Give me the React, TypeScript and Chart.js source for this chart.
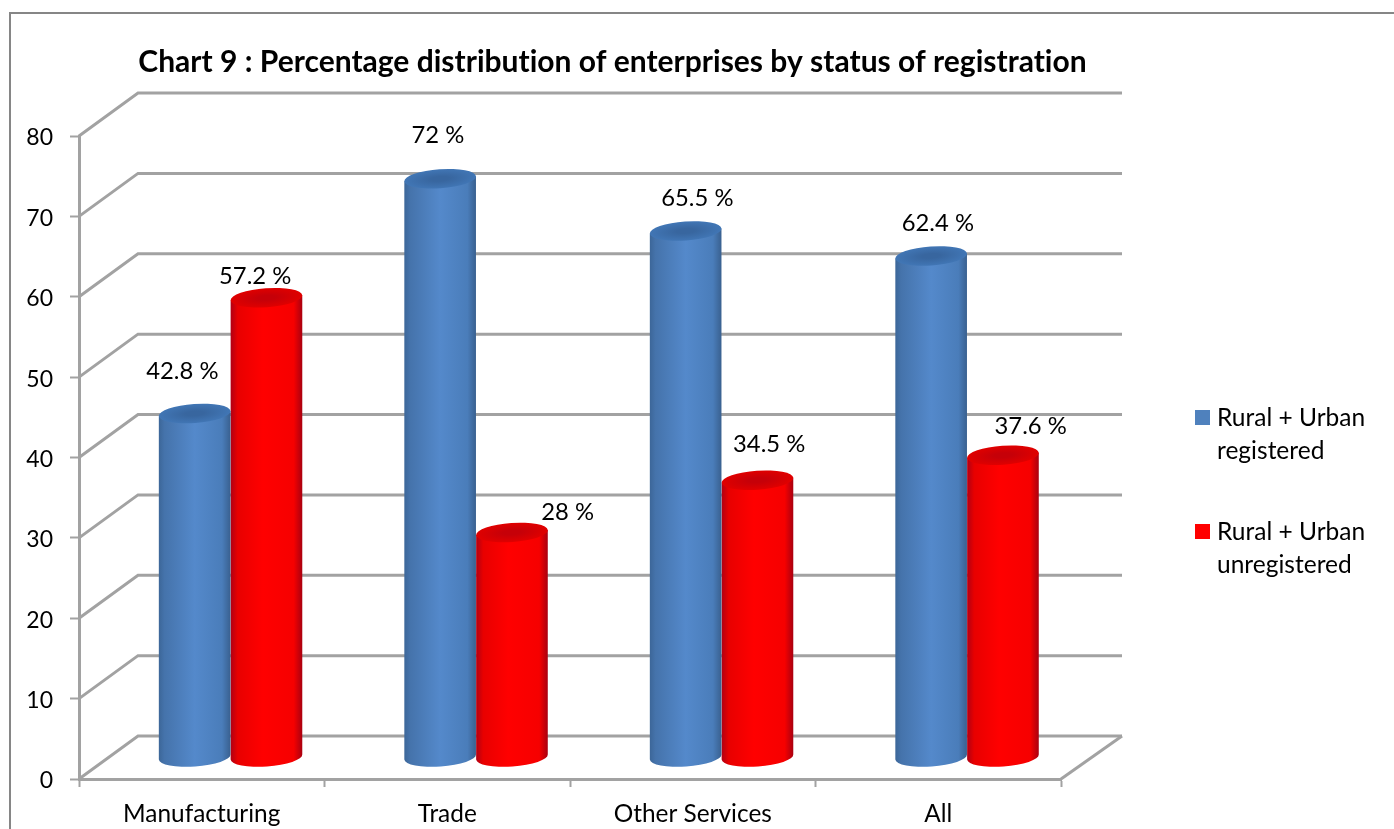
import React, { useEffect, useRef } from "react";
import { Chart, registerables, BarController, BarElement } from "chart.js";

const categories = ["Manufacturing", "Trade", "Other Services", "All"];
const registered = [42.8, 72, 65.5, 62.4];
const unregistered = [57.2, 28, 34.5, 37.6];
const seriesNames = ["Rural + Urban registered", "Rural + Urban unregistered"];
const legendLines = [["Rural + Urban", "registered"], ["Rural + Urban", "unregistered"]];
const titleText = "Chart 9 : Percentage distribution of enterprises by status of registration";
const yMax = 80;
const yStep = 10;

// Hand-placed label nudges of the source chart, relative to each cylinder's top centre
const registeredLabelNudge = [[-13, -42], [-3, -43], [11, -33], [6, -33]];
const unregisteredLabelNudge = [[-12, -21], [55, -20], [11, -36], [27, -29]];

const FONT = "Lato, Carlito, 'Noto Sans', sans-serif";
const DEPTH_X = 59;
const DEPTH_Y = 43;
const GRID = "#a2a2a2";
const RY = 9.5;
const TILT = -0.07;

const palettes: Record<string, any> = {
  blue: {
    body: [[0, "#3c6698"], [0.08, "#4573ab"], [0.5, "#5489cb"], [0.88, "#4a7dba"], [1, "#39608f"]],
    topIn: "#38669f", topOut: "#4176b5", swatch: "#4f81bd",
  },
  red: {
    body: [[0, "#b00014"], [0.1, "#e80000"], [0.45, "#ff0000"], [0.88, "#f60000"], [1, "#a80010"]],
    topIn: "#c60008", topOut: "#e00000", swatch: "#ff0000",
  },
};

class CylinderElement extends BarElement {
  static id = "cylinder";
  draw(ctx: CanvasRenderingContext2D) {
    const { x, y, base, width } = (this as any).getProps(["x", "y", "base", "width"], true);
    const pal = palettes[(this as any).options.backgroundColor];
    const cx = x + DEPTH_X / 2 - 0.7;
    const top = y - DEPTH_Y / 2;
    const bottom = base - DEPTH_Y / 2;
    const rx = width / 2;
    const ex = rx * Math.cos(TILT);
    const ey = rx * Math.sin(TILT);
    const g = ctx.createLinearGradient(cx - rx, 0, cx + rx, 0);
    pal.body.forEach(([s, c]: [number, string]) => g.addColorStop(s, c));
    ctx.save();
    ctx.fillStyle = g;
    ctx.beginPath();
    ctx.moveTo(cx - ex, top - ey);
    ctx.lineTo(cx - ex, bottom - ey);
    ctx.ellipse(cx, bottom, rx, RY, TILT, Math.PI, 0, true);
    ctx.lineTo(cx + ex, top + ey);
    ctx.closePath();
    ctx.fill();
    ctx.translate(cx, top);
    ctx.rotate(TILT);
    ctx.scale(1, RY / rx);
    const r = ctx.createRadialGradient(0, 0, rx * 0.25, 0, 0, rx);
    r.addColorStop(0, pal.topIn);
    r.addColorStop(1, pal.topOut);
    ctx.fillStyle = r;
    ctx.beginPath();
    ctx.arc(0, 0, rx, 0, Math.PI * 2);
    ctx.fill();
    ctx.restore();
  }
}

class CylinderController extends BarController {
  static id = "cylinderBar";
  static defaults = { ...(BarController as any).defaults, dataElementType: "cylinder" };
}

Chart.register(...registerables, CylinderElement as any, CylinderController as any);

const wallsPlugin = {
  id: "walls",
  beforeDatasetsDraw(chart: any) {
    const { ctx, chartArea: a, scales } = chart;
    ctx.save();
    ctx.strokeStyle = GRID;
    ctx.lineWidth = 3;
    ctx.lineJoin = "miter";
    scales.y.ticks.forEach((t: any) => {
      const py = scales.y.getPixelForValue(t.value);
      ctx.beginPath();
      ctx.moveTo(a.left, py);
      ctx.lineTo(a.left + DEPTH_X, py - DEPTH_Y);
      ctx.lineTo(a.right + DEPTH_X + 2, py - DEPTH_Y);
      ctx.stroke();
    });
    ctx.beginPath();
    ctx.moveTo(a.right + DEPTH_X + 2, a.bottom - DEPTH_Y);
    ctx.lineTo(a.right, a.bottom);
    ctx.stroke();
    ctx.restore();
  },
};

const labelsPlugin = {
  id: "valueLabels",
  afterDatasetsDraw(chart: any) {
    const { ctx } = chart;
    const nudges = [registeredLabelNudge, unregisteredLabelNudge];
    ctx.save();
    ctx.font = `23.8px ${FONT}`;
    ctx.fillStyle = "#000";
    ctx.textAlign = "center";
    ctx.textBaseline = "middle";
    chart.data.datasets.forEach((ds: any, d: number) => {
      chart.getDatasetMeta(d).data.forEach((el: any, i: number) => {
        const [nx, ny] = nudges[d][i];
        ctx.fillText(`${ds.data[i]} %`, el.x + DEPTH_X / 2 + nx, el.y - DEPTH_Y / 2 + ny);
      });
    });
    ctx.restore();
  },
};

const legendPlugin = {
  id: "sideLegend",
  afterDraw(chart: any) {
    const { ctx } = chart;
    ctx.save();
    ctx.font = `24.5px ${FONT}`;
    ctx.textBaseline = "middle";
    ctx.textAlign = "left";
    chart.data.datasets.forEach((ds: any, d: number) => {
      const y0 = 418 + d * 114;
      ctx.fillStyle = palettes[ds.backgroundColor].swatch;
      ctx.fillRect(1195, y0 - 8, 15, 15);
      ctx.fillStyle = "#000";
      legendLines[d].forEach((line, k) => ctx.fillText(line, 1217, y0 + k * 33));
    });
    ctx.restore();
  },
};

const titlePlacement = {
  id: "titlePlacement",
  afterLayout(chart: any) {
    chart.titleBlock.left = 0;
    chart.titleBlock.right = 1225;
  },
  beforeDraw(chart: any) {
    chart.ctx.letterSpacing = "0.01px";
  },
};

export default function App() {
  const ref = useRef<HTMLCanvasElement>(null);
  useEffect(() => {
    const chart = new Chart(ref.current!, {
      type: "cylinderBar" as any,
      data: {
        labels: categories,
        datasets: [
          { label: seriesNames[0], data: registered, backgroundColor: "blue", clip: false } as any,
          { label: seriesNames[1], data: unregistered, backgroundColor: "red", clip: false } as any,
        ],
      },
      options: {
        animation: false,
        responsive: false,
        categoryPercentage: 0.585,
        barPercentage: 1,
        layout: { autoPadding: false, padding: { left: 0, right: 333, top: 0, bottom: 0 } },
        events: [],
        plugins: {
          legend: { display: false },
          tooltip: { enabled: false },
          title: {
            display: true,
            text: titleText,
            color: "#000",
            font: { family: FONT, size: 30, weight: "bold", lineHeight: 1 },
            padding: { top: 47, bottom: 59 },
          },
        },
        scales: {
          x: {
            afterFit: (s: any) => { s.height = 50; },
            border: { color: GRID, width: 3 },
            grid: { drawOnChartArea: false, tickColor: GRID, tickWidth: 2, tickLength: 8, offset: true },
            ticks: { color: "#000", font: { family: FONT, size: 24.4 }, padding: 13, maxRotation: 0 },
          },
          y: {
            min: 0,
            max: yMax,
            afterFit: (s: any) => { s.width = 79; },
            border: { color: GRID, width: 3 },
            grid: { drawOnChartArea: false, tickColor: GRID, tickWidth: 2, tickLength: 9 },
            ticks: { stepSize: yStep, color: "#000", font: { family: FONT, size: 23 }, padding: 17, labelOffset: 2 },
          },
        },
      } as any,
      plugins: [titlePlacement, wallsPlugin, labelsPlugin, legendPlugin],
    });
    return () => chart.destroy();
  }, []);
  return (
    <div style={{ position: "absolute", left: 0, top: 0, width: 1394, height: 829, overflow: "hidden", background: "#fff" }}>
      <div style={{ position: "absolute", left: 9, top: 12, width: 1400, height: 900, border: "2px solid #868686", boxSizing: "border-box" }} />
      <canvas ref={ref} width={1394} height={829} style={{ position: "absolute", left: 0, top: 0, display: "block" }} />
    </div>
  );
}
